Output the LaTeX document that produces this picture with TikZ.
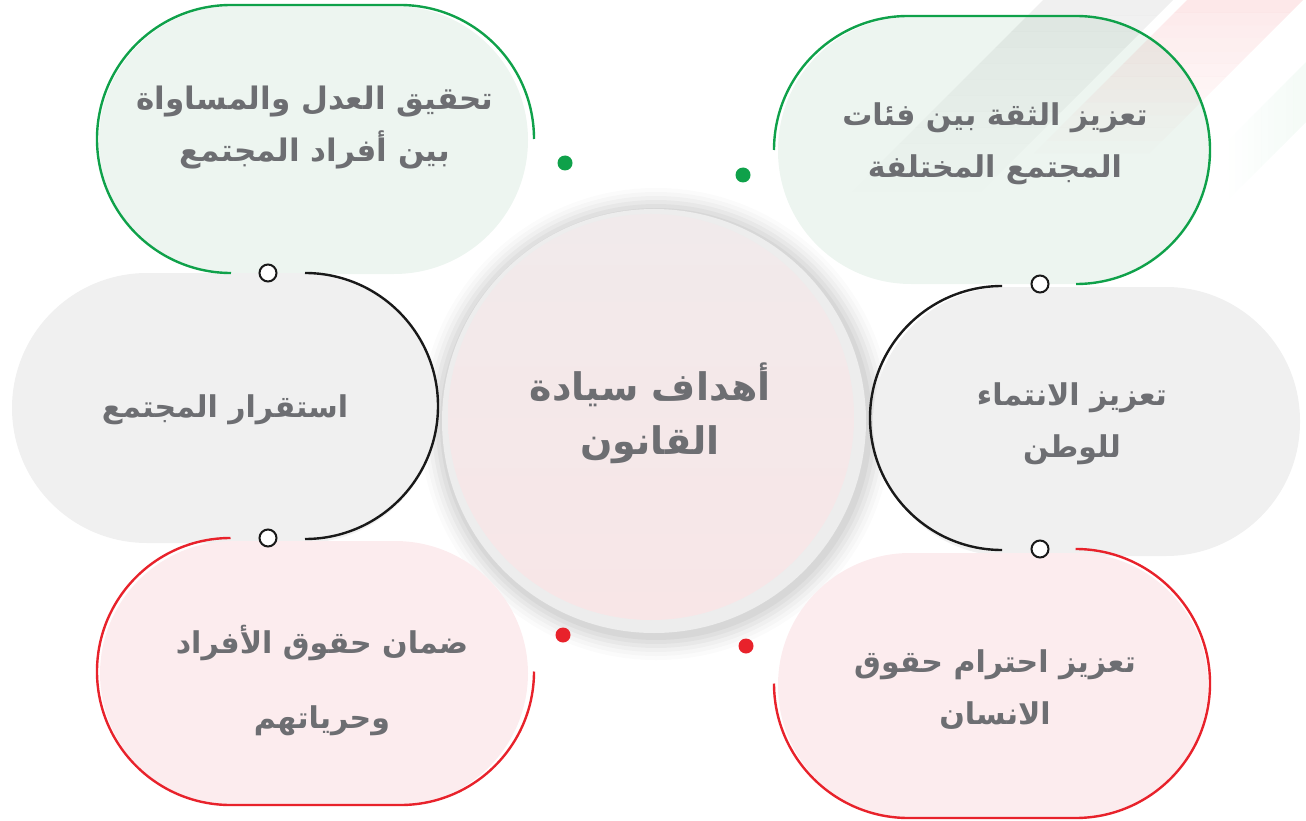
\documentclass[tikz,border=0pt]{standalone}
\usepackage{fontspec}
\newfontfamily\arabicfont[Script=Arabic]{DejaVu Sans}
\TeXXeTstate=1
\usetikzlibrary{shadings}
\definecolor{gstroke}{HTML}{0FA14A}
\definecolor{rstroke}{HTML}{E8222B}
\definecolor{gfill}{HTML}{EDF5F0}
\definecolor{grayfill}{HTML}{F0F0F0}
\definecolor{pfill}{HTML}{FCECEE}
\definecolor{ctop}{HTML}{F1EAEB}
\definecolor{cbot}{HTML}{F8E6E7}
\definecolor{txt}{HTML}{6D6E72}
\tikzset{
  lbl/.style={font=\arabicfont\bfseries\fontsize{30}{52}\selectfont, text=txt, align=center, inner sep=0pt},
  outline/.style={line width=2.4pt},
  ring/.style={circle, draw=black!90, fill=white, line width=2pt, minimum size=17pt, inner sep=0pt},
  dot/.style={circle, minimum size=15pt, inner sep=0pt},
}
\begin{document}
\begin{tikzpicture}[x=1pt,y=-1pt]
\useasboundingbox (0,0) rectangle (1306,821);
% center shadow halo
\foreach \r/\o in {236/0.015,232/0.02,228/0.025,224/0.03,220/0.035,216/0.04}
  \fill[black,opacity=\o] (656,424) circle (\r);
\fill[black!7] (654,421) circle (212);
% fills
\fill[gfill] (99,6) [rounded corners=134pt] rectangle (528,274);
\fill[gfill] (778,17) [rounded corners=133pt] rectangle (1210,284);
\fill[grayfill] (873,287) [rounded corners=134pt] rectangle (1300,556);
\fill[grayfill] (12,273) [rounded corners=135pt] rectangle (438,543);
\fill[pfill] (100,541) [rounded corners=133pt] rectangle (528,806);
\fill[pfill] (778,553) [rounded corners=132pt] rectangle (1208,818);
% background stripes, fading towards the lower left
\foreach \i in {0,...,11}{
  \pgfmathsetmacro{\ta}{\i*16}
  \pgfmathsetmacro{\tb}{(\i+1)*16}
  \pgfmathsetmacro{\op}{0.06*(1-\i/12)}
  \fill[black, opacity=\op] (1043-\ta,\ta) -- (1173-\ta,\ta) -- (1173-\tb,\tb) -- (1043-\tb,\tb) -- cycle;
  \pgfmathsetmacro{\opr}{0.10*(1-\i/12)}
  \fill[rstroke, opacity=\opr] (1187-\ta*0.8,\ta*0.8) -- (1303-\ta*0.8,\ta*0.8) -- (1303-\tb*0.8,\tb*0.8) -- (1187-\tb*0.8,\tb*0.8) -- cycle;
  \pgfmathsetmacro{\opg}{0.045*(1-\i/12)}
  \fill[gstroke, opacity=\opg] (1306-\ta*0.4,62+\ta*0.4) -- (1306-\ta*0.4,122+\ta*0.4) -- (1306-\tb*0.4,122+\tb*0.4) -- (1306-\tb*0.4,62+\tb*0.4) -- cycle;
}
% center circle
\shade[top color=ctop, bottom color=cbot] (651,417) circle (203);
% outlines
\draw[gstroke, outline] (231,273) arc[start angle=90, end angle=270, radius=134] -- (400,5) arc[start angle=270, end angle=360, radius=134];
\draw[gstroke, outline] (774,150) arc[start angle=180, end angle=270, radius=134] -- (1076,16) arc[start angle=270, end angle=450, radius=134];
\draw[black!90, outline] (1002,286) arc[start angle=270, end angle=90, radius=132];
\draw[rstroke, outline] (1075.5,549) arc[start angle=270, end angle=450, radius=134.5] -- (908.5,818) arc[start angle=90, end angle=180, radius=134.5];
\draw[black!90, outline] (305,273) arc[start angle=270, end angle=450, radius=133];
\draw[rstroke, outline] (230.5,538) arc[start angle=270, end angle=90, radius=133.5] -- (400.5,805) arc[start angle=90, end angle=0, radius=133.5];
% rings and dots
\node[ring] (r1) at (268,273) {};
\node[ring] (r2) at (268,538) {};
\node[ring] (r3) at (1040,284) {};
\node[ring] (r4) at (1040,549) {};
\node[dot, fill=gstroke] (d1) at (565,163) {};
\node[dot, fill=gstroke] (d2) at (743,175) {};
\node[dot, fill=rstroke] (d3) at (563,635) {};
\node[dot, fill=rstroke] (d4) at (746,646) {};
% texts
\node[lbl, font=\arabicfont\bfseries\fontsize{38}{54}\selectfont] (center) at (650,413) {\beginR أهداف سيادة\endR\\\beginR القانون\endR};
\node[lbl, font=\arabicfont\bfseries\fontsize{31}{52}\selectfont] (tl) at (315,128) {\beginR تحقيق العدل والمساواة\endR\\\beginR بين أفراد المجتمع\endR};
\node[lbl] (tr) at (995,144) {\beginR تعزيز الثقة بين فئات\endR\\\beginR المجتمع المختلفة\endR};
\node[lbl] (lm) at (225,410) {\beginR استقرار المجتمع\endR};
\node[lbl] (rm) at (1072,424) {\beginR تعزيز  الانتماء\endR\\\beginR للوطن\endR};
\node[lbl, font=\arabicfont\bfseries\fontsize{30}{75}\selectfont] (bl) at (322,680) {\beginR ضمان حقوق الأفراد\endR\\\beginR وحرياتهم\endR};
\node[lbl] (br) at (995,690) {\beginR تعزيز احترام حقوق\endR\\\beginR الانسان\endR};
\end{tikzpicture}
\end{document}
